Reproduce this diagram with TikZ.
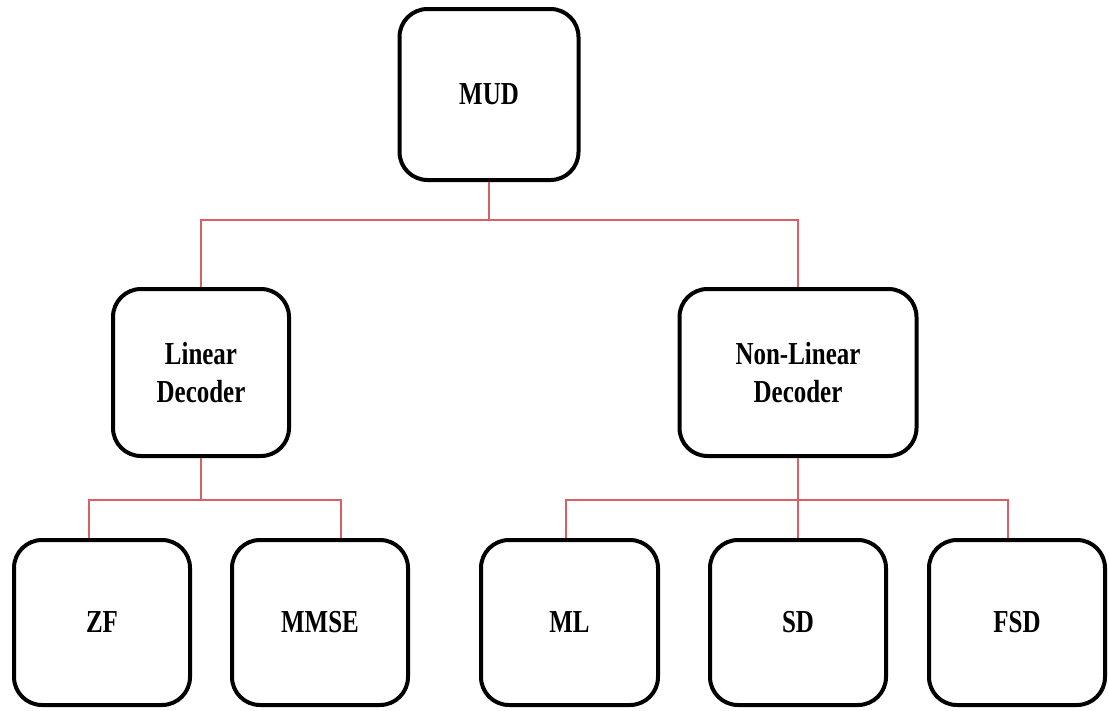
\documentclass[tikz,border=0pt]{standalone}
\usepackage{fontspec}
\setmainfont[FakeStretch=0.78]{Liberation Serif}
\definecolor{connred}{RGB}{214,96,100}
\begin{document}
\begin{tikzpicture}[x=1pt,y=-1pt,
  box/.style={draw=black, line width=4pt, rounded corners=28pt, inner sep=0pt,
    align=center, font=\bfseries\fontsize{32}{38}\selectfont, minimum height=#1},
  box/.default=167pt,
  conn/.style={draw=connred, line width=1.3pt}]
\useasboundingbox (0,0) rectangle (1109,710);
\node[box=171pt, minimum width=179pt] (mud) at (489,94.5) {MUD};
\node[box, minimum width=176pt] (lin) at (201,372.5) {Linear\\Decoder};
\node[box, minimum width=237pt] (nl) at (798,372.5) {Non-Linear\\Decoder};
\node[box=165pt, minimum width=176pt] (zf) at (102,622.5) {ZF};
\node[box=165pt, minimum width=176pt] (mmse) at (320,622.5) {MMSE};
\node[box=165pt, minimum width=177pt] (ml) at (569.5,622.5) {ML};
\node[box=165pt, minimum width=176pt] (sd) at (798,622.5) {SD};
\node[box=165pt, minimum width=176pt] (fsd) at (1017,622.5) {FSD};
\coordinate (j0) at (489,220);
\coordinate (j1) at (201,500);
\coordinate (j2) at (798,500);
\coordinate (zfin) at ([xshift=-13pt]zf.north);
\coordinate (mmsein) at ([xshift=21pt]mmse.north);
\coordinate (mlin) at ([xshift=-3.5pt]ml.north);
\coordinate (fsdin) at ([xshift=-9pt]fsd.north);
\draw[conn] (mud.south) -- (mud.south |- j0);
\draw[conn] (lin.north) -- (lin.north |- j0) -- (nl.north |- j0) -- (nl.north);
\draw[conn] (lin.south) -- (lin.south |- j1);
\draw[conn] (zfin) -- (zfin |- j1) -- (mmsein |- j1) -- (mmsein);
\draw[conn] (nl.south) -- (sd.north);
\draw[conn] (mlin) -- (mlin |- j2) -- (fsdin |- j2) -- (fsdin);
\end{tikzpicture}
\end{document}
